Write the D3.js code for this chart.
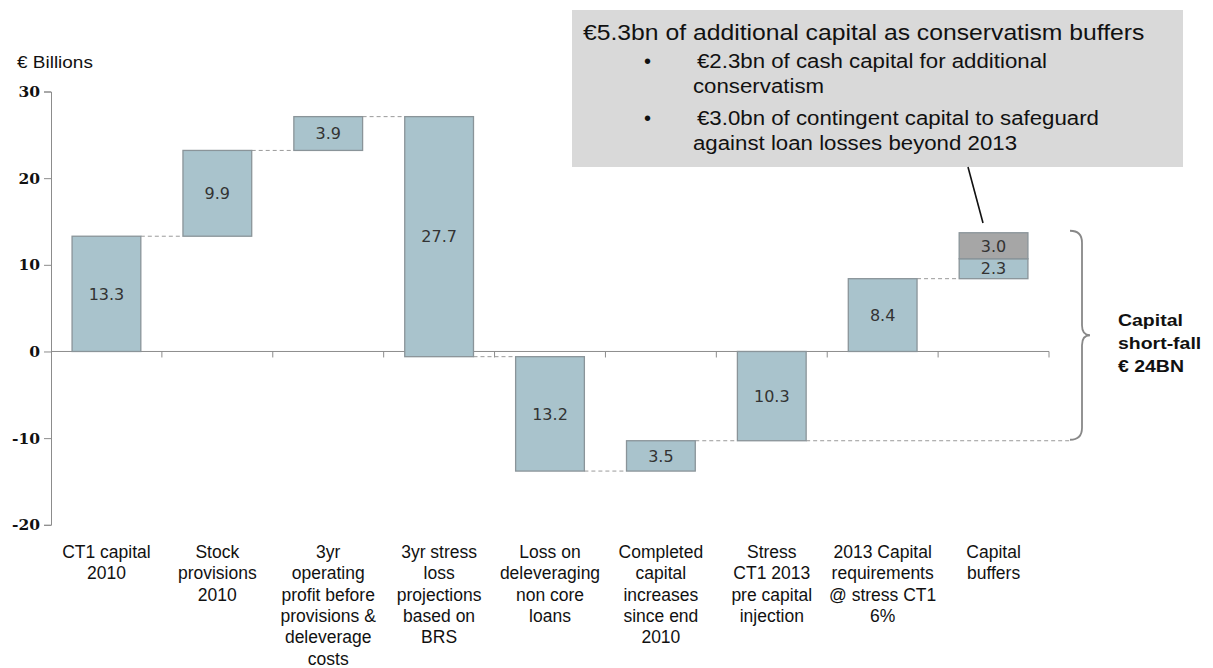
<!DOCTYPE html>
<html><head><meta charset="utf-8">
<script src="https://cdn.jsdelivr.net/npm/d3@7"></script>
<style>body{margin:0;background:#fff;} svg{display:block;}</style>
</head><body>
<svg id="c" width="1213" height="668"></svg>
<script>
const categories = [
  ["CT1 capital","2010"],
  ["Stock","provisions","2010"],
  ["3yr","operating","profit before","provisions &","deleverage","costs"],
  ["3yr stress","loss","projections","based on","BRS"],
  ["Loss on","deleveraging","non core","loans"],
  ["Completed","capital","increases","since end","2010"],
  ["Stress","CT1 2013","pre capital","injection"],
  ["2013 Capital","requirements","@ stress CT1","6%"],
  ["Capital","buffers"]
];
// waterfall segments
const barStart = [0, 13.3, 23.2, 27.1, -0.6, -13.8, 0, 0, 8.4, 10.7];
const barEnd   = [13.3, 23.2, 27.1, -0.6, -13.8, -10.3, -10.3, 8.4, 10.7, 13.7];
const barLabel = ["13.3","9.9","3.9","27.7","13.2","3.5","10.3","8.4","2.3","3.0"];
const barCat   = [0,1,2,3,4,5,6,7,8,8];
const barGray  = [false,false,false,false,false,false,false,false,false,true];
const yTicks = [30,20,10,0,-10,-20];
const noteTitle = "€5.3bn of additional capital as conservatism buffers";
const noteBullets = [["€2.3bn of cash capital for additional","conservatism"],["€3.0bn of contingent capital to safeguard","against loan losses beyond 2013"]];
const braceText = ["Capital","short-fall","€ 24BN"];

const svg = d3.select("#c");
const ff="'Liberation Sans', Arial, sans-serif";
const x = d3.scaleBand().domain(d3.range(categories.length)).range([51,1049]).paddingInner(0.38).paddingOuter(0.19);
const xb = d3.scaleLinear().domain([0,categories.length]).range([51,1049]);
const y = d3.scaleLinear().domain([-20,30]).range([524.8,91.5]);

function stretchedText(px, py, str, size, sx, opts={}){
  const t = svg.append("text").attr("transform",`translate(${px},${py}) scale(${sx},1)`)
    .attr("font-family",ff).attr("font-size",size).attr("fill","#111").text(str);
  if (opts.bold) t.attr("font-weight","bold");
  return t;
}

// y axis
const yAxis = svg.append("g").attr("transform","translate(51,0)")
  .call(d3.axisLeft(y).tickValues(yTicks).tickSize(7).tickFormat(d=>String(d)));
yAxis.select(".domain").attr("stroke","#8c8c8c");
yAxis.selectAll(".tick line").attr("stroke","#8c8c8c");
yAxis.selectAll(".tick text").attr("font-family","'DejaVu Serif', 'Liberation Serif', serif")
  .attr("font-weight","bold").attr("font-size",15.5).attr("fill","#111").attr("x",-11);

// zero axis line with ticks at category boundaries
svg.append("line").attr("x1",51).attr("x2",1049).attr("y1",y(0)).attr("y2",y(0)).attr("stroke","#8c8c8c");
svg.selectAll(".xt").data(d3.range(1,categories.length+1)).enter().append("line")
  .attr("x1",d=>xb(d)).attr("x2",d=>xb(d)).attr("y1",y(0)).attr("y2",y(0)+6).attr("stroke","#8c8c8c");

stretchedText(17, 68, "€ Billions", 16.5, 1.15);

// connectors (dashed)
const conns = [];
for (let i=0;i<barStart.length-1;i++){
  if (barCat[i]===barCat[i+1]) continue;
  if (barEnd[i]!==barStart[i+1] && !(barEnd[i]===barEnd[i+1])) continue;
  conns.push({x1:x(barCat[i])+x.bandwidth(), x2:x(barCat[i+1]), v:barEnd[i]});
}
conns.push({x1:x(6)+x.bandwidth(), x2:1072, v:barEnd[6]});
svg.selectAll(".conn").data(conns).enter().append("line")
  .attr("x1",d=>d.x1).attr("x2",d=>d.x2).attr("y1",d=>y(d.v)).attr("y2",d=>y(d.v))
  .attr("stroke","#9a9a9a").attr("stroke-dasharray","4,3").attr("stroke-width",1);

// bars
const bars = d3.range(barStart.length);
svg.selectAll(".bar").data(bars).enter().append("rect")
  .attr("x",i=>x(barCat[i])).attr("width",x.bandwidth())
  .attr("y",i=>y(Math.max(barStart[i],barEnd[i])))
  .attr("height",i=>Math.abs(y(barStart[i])-y(barEnd[i])))
  .attr("fill",i=>barGray[i]?"#a6a6a6":"#a9c3cc")
  .attr("stroke","#8a9499").attr("stroke-width",1.3);
svg.selectAll(".bl").data(bars).enter().append("text")
  .attr("x",i=>x(barCat[i])+x.bandwidth()/2)
  .attr("y",i=>(y(barStart[i])+y(barEnd[i]))/2)
  .attr("dy","0.36em").attr("text-anchor","middle")
  .attr("font-family","'DejaVu Sans', Verdana, sans-serif").attr("font-size",16)
  .attr("fill","#333").text(i=>barLabel[i]);

// category labels
const lab = svg.selectAll(".cl").data(categories).enter().append("text")
  .attr("text-anchor","middle").attr("font-family",ff)
  .attr("font-size",17.5).attr("fill","#111");
lab.each(function(lines,i){
  const t=d3.select(this);
  lines.forEach((l,k)=>t.append("tspan").attr("x",x(i)+x.bandwidth()/2).attr("y",558+k*21.3).text(l));
});

// annotation box
svg.append("rect").attr("x",572).attr("y",10).attr("width",611).attr("height",157).attr("fill","#d9d9d9");
stretchedText(583, 40, noteTitle, 21.5, 1.15);
let ly = 68;
noteBullets.forEach(b=>{
  svg.append("text").attr("x",644).attr("y",ly).attr("font-family",ff).attr("font-size",20).attr("fill","#111").text("•");
  b.forEach((l,k)=>stretchedText(k===0?697:693, ly+k*24.5, l, 21, 1.06));
  ly += 57;
});
// leader line
svg.append("line").attr("x1",968).attr("y1",167).attr("x2",983).attr("y2",223).attr("stroke","#111").attr("stroke-width",1.6);

// brace
const bt=y(13.7)-2, bb=y(-10.3)-1, bm=(bt+bb)/2;
const bx=1070, bx2=1082, bp=1090;
const path = `M${bx},${bt} Q${bx2},${bt} ${bx2},${bt+12} L${bx2},${bm-10} Q${bx2},${bm} ${bp},${bm} Q${bx2},${bm} ${bx2},${bm+10} L${bx2},${bb-12} Q${bx2},${bb} ${bx},${bb}`;
svg.append("path").attr("d",path).attr("fill","none").attr("stroke","#888").attr("stroke-width",1.8);

braceText.forEach((d,k)=>stretchedText(1118, 326+k*23, d, 16.5, 1.18, {bold:true}));
</script>
</body></html>
